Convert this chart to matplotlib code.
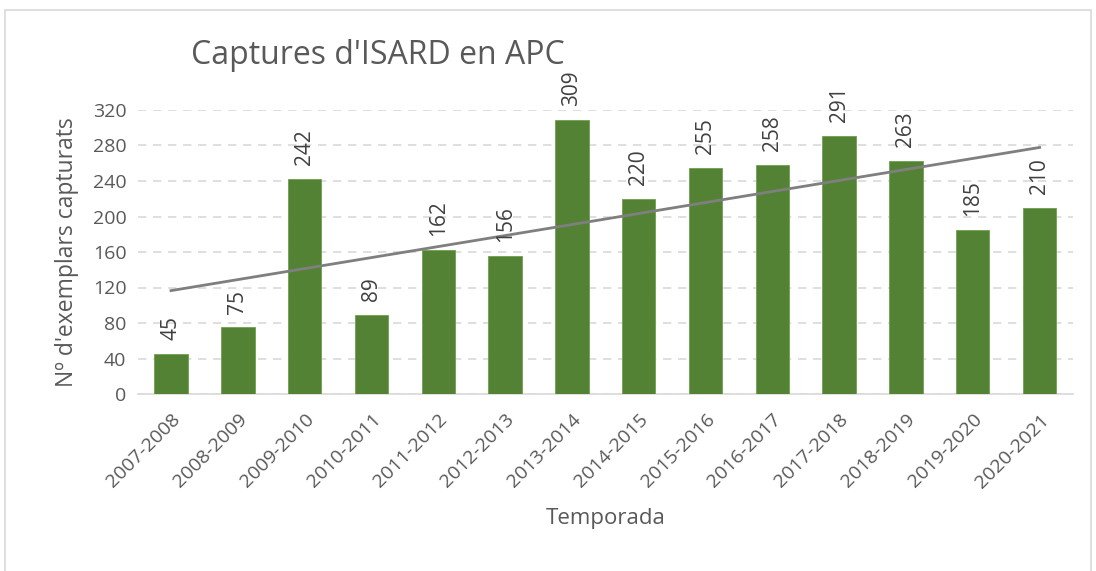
import matplotlib
matplotlib.use('Agg')
import matplotlib.pyplot as plt
from matplotlib.patches import Rectangle
import numpy as np

# dades
temporades = ['2007-2008', '2008-2009', '2009-2010', '2010-2011', '2011-2012',
              '2012-2013', '2013-2014', '2014-2015', '2015-2016', '2016-2017',
              '2017-2018', '2018-2019', '2019-2020', '2020-2021']
captures = [45, 75, 242, 89, 162, 156, 309, 220, 255, 258, 291, 263, 185, 210]
yticks = [0, 40, 80, 120, 160, 200, 240, 280, 320]

gris_text = '#595959'
verd = '#548235'
plt.rcParams['font.family'] = ['Open Sans', 'DejaVu Sans']

fig = plt.figure(figsize=(10.96, 5.71), dpi=100)
W, H = 1096, 571

# marc del gràfic
fig.patches.append(Rectangle((5 / W, -0.05), 1086 / W, 1.05 - 10 / H,
                             transform=fig.transFigure, fill=False,
                             edgecolor='#D9D9D9', linewidth=1.2))

ax = fig.add_axes([137.6 / W, 1 - 394 / H, 935.4 / W, 284 / H])
x = np.arange(len(temporades))
ax.bar(x, captures, width=0.5, color=verd, edgecolor='#70A050', linewidth=0.6, zorder=3)

# línia de tendència lineal
pend, orig = np.polyfit(x, captures, 1)
ax.plot(x, pend * x + orig, color='#7F7F7F', linewidth=2, zorder=4)

# etiquetes de dades
for xi, v in zip(x, captures):
    ax.annotate(str(v), (xi, v), xytext=(0, 10), textcoords='offset points',
                rotation=90, ha='center', va='bottom', fontsize=15,
                color='#404040', zorder=5)

ax.set_xlim(-0.5, len(temporades) - 0.5)
ax.set_ylim(0, 320)
ax.set_yticks(yticks)
ax.set_xticks(x)
ax.set_xticklabels(temporades, rotation=45, ha='right', rotation_mode='anchor')
ax.tick_params(axis='both', length=0, labelsize=14, labelcolor=gris_text)
ax.tick_params(axis='x', pad=12)
ax.tick_params(axis='y', pad=8)

ax.grid(axis='y', color='#D9D9D9', linestyle=(0, (5, 4)), linewidth=1.2, zorder=0)
for s in ['top', 'right', 'left']:
    ax.spines[s].set_visible(False)
ax.spines['bottom'].set_color('#D9D9D9')
ax.spines['bottom'].set_linewidth(1.2)

ax.set_ylabel("Nº d'exemplars capturats", fontsize=16.5, color=gris_text, labelpad=10)
ax.set_xlabel('Temporada', fontsize=16, color=gris_text, labelpad=12)

fig.text(378 / W, 1 - 55 / H, "Captures d'ISARD en APC", fontsize=23,
         color=gris_text, ha='center', va='center')

fig.savefig('out.png', dpi=100)
